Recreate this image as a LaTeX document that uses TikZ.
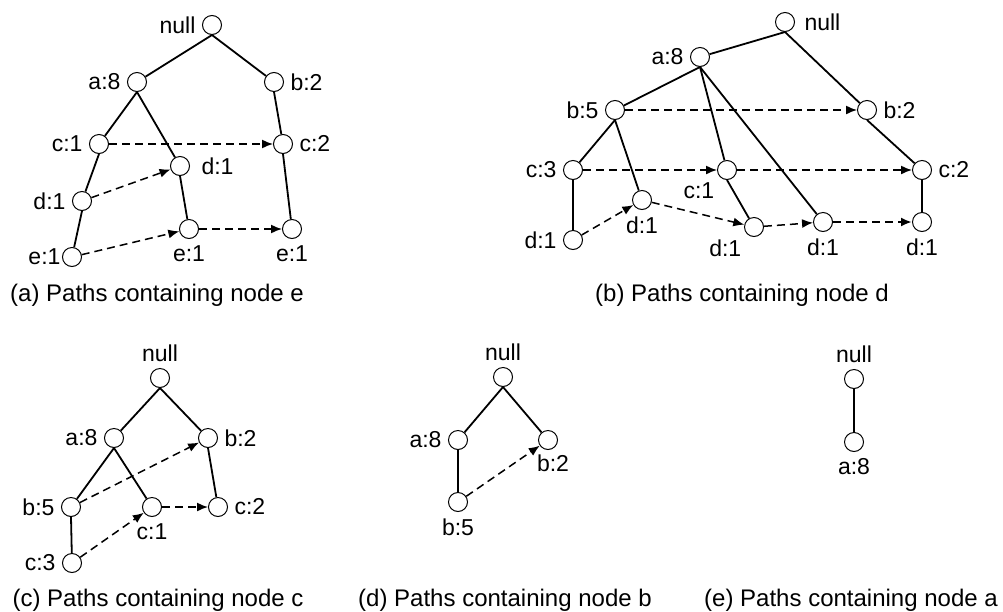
\documentclass[tikz,border=0pt]{standalone}
\usepackage{fontspec}
\setmainfont{Liberation Sans}
\usetikzlibrary{arrows.meta}

\begin{document}
\begin{tikzpicture}[
x=1pt, y=-1pt,
font=\fontsize{23}{27}\selectfont,
label distance=3pt,
item/.style={circle, draw, line width=1pt, minimum size=19pt, inner sep=0pt},
edge/.style={line width=1.8pt},
thinedge/.style={line width=1.1pt},
link/.style={-{Latex[length=11pt, width=9pt]}, dash pattern=on 8pt off 5pt, line width=1.5pt},
boldlink/.style={link, line width=2.2pt},
caption/.style={font=\fontsize{24}{28}\selectfont}
]
\useasboundingbox (0,0) rectangle (1003,611);

\node[item, label={left:null}] (enull) at (212,25) {};
\node[item, label={left:{a:8}}] (ea8) at (137,82) {};
\node[item, label={right:{b:2}}] (eb2) at (274,82) {};
\node[item, label={left:{c:1}}] (ec1) at (99,144) {};
\node[item, label={right:{c:2}}] (ec2) at (283,144) {};
\node[item, label={[label distance=8pt]right:{d:1}}] (ed1b) at (180,166) {};
\node[item, label={left:{d:1}}] (ed1a) at (82,201) {};
\node[item, label={[label distance=-2pt]left:{e:1}}] (ee1a) at (72,257) {};
\node[item, label={below:{e:1}}] (ee1b) at (189,229) {};
\node[item, label={below:{e:1}}] (ee1c) at (292,229) {};
\node[caption] (ecap) at (157,295) {(a) Paths containing node e};

\node[item, label={[label distance=6pt]right:null}] (dnull) at (785,22) {};
\node[item, label={left:{a:8}}] (da8) at (700,57) {};
\node[item, label={left:{b:5}}] (db5) at (615,110) {};
\node[item, label={right:{b:2}}] (db2) at (867,110) {};
\node[item, label={left:{c:3}}] (dc3) at (573,170) {};
\node[item, label={below left:{c:1}}] (dc1) at (727,170) {};
\node[item, label={right:{c:2}}] (dc2) at (922,170) {};
\node[item, label={left:{d:1}}] (dd1a) at (573,240) {};
\node[item, label={below:{d:1}}] (dd1b) at (642,200) {};
\node[item, label={below left:{d:1}}] (dd1c) at (754,227) {};
\node[item, label={below:{d:1}}] (dd1d) at (823,222) {};
\node[item, label={below:{d:1}}] (dd1e) at (922,222) {};
\node[caption] (dcap) at (742,295) {(b) Paths containing node d};

\node[item, label={above:null}] (cnull) at (160,378) {};
\node[item, label={left:{a:8}}] (ca8) at (114,438) {};
\node[item, label={right:{b:2}}] (cb2) at (208,438) {};
\node[item, label={left:{b:5}}] (cb5) at (71,507) {};
\node[item, label={below:{c:1}}] (cc1) at (152,507) {};
\node[item, label={right:{c:2}}] (cc2) at (218,507) {};
\node[item, label={left:{c:3}}] (cc3) at (72,563) {};
\node[caption] (ccap) at (158,600) {(c) Paths containing node c};

\node[item, label={above:null}] (bnull) at (503,377) {};
\node[item, label={left:{a:8}}] (ba8) at (458,440) {};
\node[item, label={[xshift=5pt, label distance=1pt]below:{b:2}}] (bb2) at (548,440) {};
\node[item, label={below:{b:5}}] (bb5) at (458,502) {};
\node[caption] (bcap) at (505,600) {(d) Paths containing node b};

\node[item, label={above:null}] (anull) at (854,379) {};
\node[item, label={below:{a:8}}] (aa8) at (854,442) {};
\node[caption] (acap) at (851,600) {(e) Paths containing node a};

\draw[edge] (enull.south) -- (ea8);
\draw[edge] (enull.south) -- (eb2);
\draw[edge] (ea8.south) -- (ec1);
\draw[edge] (ea8.south) -- (ed1b);
\draw[edge] (eb2.south) -- (ec2);
\draw[edge] (ec1.south) -- (ed1a);
\draw[edge] (ed1a.south) -- (ee1a);
\draw[edge] (ed1b.south) -- (ee1b);
\draw[edge] (ec2.south) -- (ee1c);

\draw[link] (ec1) -- (ec2);
\draw[link] (ed1a) -- (ed1b);
\draw[link] (ee1a) -- (ee1b);
\draw[link] (ee1b) -- (ee1c);

\draw[edge] (dnull.south) -- (da8);
\draw[edge] (dnull.south) -- (db2);
\draw[edge] (da8.south) -- (db5);
\draw[edge] (da8.south) -- (dc1);
\draw[edge] (da8.south) -- (dd1d);
\draw[edge] (db5.south) -- (dc3);
\draw[edge] (db5.south) -- (dd1b);
\draw[edge] (dc1.south) -- (dd1c);
\draw[edge] (db2.south) -- (dc2);
\draw[thinedge] (dc2) -- (dd1e);
\draw[thinedge] (dc3) -- (dd1a);

\draw[link] (db5) -- (db2);
\draw[link] (dc3) -- (dc1);
\draw[link] (dc1) -- (dc2);
\draw[link] (dd1a) -- (dd1b);
\draw[link] (dd1b) -- (dd1c);
\draw[link] (dd1c) -- (dd1d);
\draw[boldlink] (dd1d) -- (dd1e);

\draw[edge] (cnull.south) -- (ca8);
\draw[edge] (cnull.south) -- (cb2);
\draw[edge] (ca8.south) -- (cb5);
\draw[edge] (ca8.south) -- (cc1);
\draw[edge] (cb2.south) -- (cc2);
\draw[edge] (cb5.south) -- (cc3);

\draw[link] (cb5) -- (cb2);
\draw[link] (cc3) -- (cc1);
\draw[link] (cc1) -- (cc2);

\draw[edge] (bnull.south) -- (ba8);
\draw[edge] (bnull.south) -- (bb2);
\draw[edge] (ba8.south) -- (bb5);
\draw[link] (bb5) -- (bb2);

\draw[edge, line width=2.3pt] (anull) -- (aa8);

\end{tikzpicture}
\end{document}
